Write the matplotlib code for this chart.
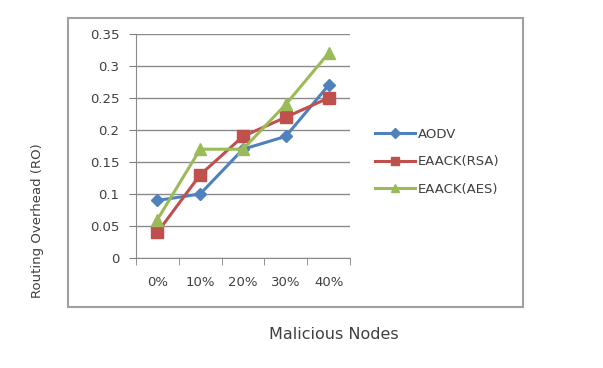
import numpy as np
import matplotlib.pyplot as plt
from matplotlib.patches import Rectangle

plt.rcParams['font.family'] = ['DejaVu Sans']

categories = ['0%', '10%', '20%', '30%', '40%']
aodv = [0.09, 0.10, 0.17, 0.19, 0.27]
eaack_rsa = [0.04, 0.13, 0.19, 0.22, 0.25]
eaack_aes = [0.06, 0.17, 0.17, 0.24, 0.32]

txt = '#404040'
fig = plt.figure(figsize=(6.03, 3.68), dpi=100)
# outer chart border
fig.patches.append(Rectangle((0.1128, 0.1658), 0.7546, 0.7853, transform=fig.transFigure,
                             fill=False, edgecolor='#a0a0a0', linewidth=1.5))

ax = fig.add_axes([0.2255, 0.2989, 0.3549, 0.6087])
x = np.arange(len(categories))
ax.plot(x, aodv, color='#4F81BD', marker='D', markersize=6, linewidth=2.2, label='AODV')
ax.plot(x, eaack_rsa, color='#C0504D', marker='s', markersize=8, linewidth=2.2, label='EAACK(RSA)')
ax.plot(x, eaack_aes, color='#9BBB59', marker='^', markersize=8, linewidth=2.2, label='EAACK(AES)')

ax.set_xlim(-0.5, len(categories) - 0.5)
ax.set_ylim(0, 0.35)
ax.set_yticks(np.arange(0, 0.351, 0.05))
ax.set_yticklabels(['0', '0.05', '0.1', '0.15', '0.2', '0.25', '0.3', '0.35'])
ax.set_xticks(x)
ax.set_xticklabels(categories)
ax.set_xticks(np.arange(-0.5, len(categories), 1), minor=True)
ax.tick_params(axis='x', which='major', length=0, pad=13, labelsize=9.5, colors=txt)
ax.tick_params(axis='x', which='minor', length=5, color='#808080')
ax.tick_params(axis='y', length=5, color='#808080', labelsize=9.5, labelcolor=txt, pad=7)
ax.grid(axis='y', color='#8a8a8a', linewidth=1)
ax.set_axisbelow(True)
for s in ['top', 'right']:
    ax.spines[s].set_visible(False)
for s in ['left', 'bottom']:
    ax.spines[s].set_color('#8a8a8a')

fig.text(0.063, 0.40, 'Routing Overhead (RO)', rotation=90, ha='center', va='center',
         fontsize=9.5, color=txt)
fig.text(0.553, 0.09, 'Malicious Nodes', ha='center', va='center', fontsize=11.5, color=txt)

ax.legend(loc='upper left', bbox_to_anchor=(0.603, 0.685), bbox_transform=fig.transFigure,
          frameon=False, fontsize=9.5, labelcolor=txt, handlelength=3, handletextpad=0.2,
          labelspacing=1.1, markerscale=0.8)

fig.savefig('out.png', dpi=100)
